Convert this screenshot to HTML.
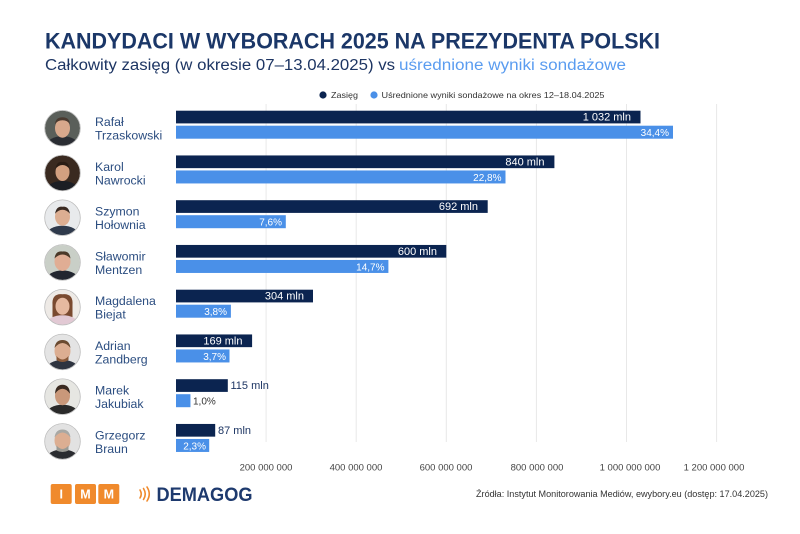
<!DOCTYPE html>
<html><head><meta charset="utf-8"><style>
html,body{margin:0;padding:0;background:#fff;}
svg{display:block;font-family:"Liberation Sans",sans-serif;}
</style></head><body>
<svg width="800" height="534" viewBox="0 0 800 534" xmlns="http://www.w3.org/2000/svg">
<rect width="800" height="534" fill="#fff"/>
<defs><clipPath id="c"><circle cx="0" cy="0" r="17.5"/></clipPath></defs>

<!-- Title -->
<text x="45" y="48.5" font-size="22" font-weight="bold" fill="#1b3768" textLength="615" lengthAdjust="spacingAndGlyphs">KANDYDACI W WYBORACH 2025 NA PREZYDENTA POLSKI</text>
<text x="45" y="70" font-size="15.5" fill="#1d3563" textLength="350" lengthAdjust="spacingAndGlyphs">Całkowity zasięg (w okresie 07–13.04.2025) vs</text>
<text x="399" y="70" font-size="15.5" fill="#5a9cf0" textLength="227" lengthAdjust="spacingAndGlyphs">uśrednione wyniki sondażowe</text>

<!-- Legend -->
<circle cx="323" cy="95" r="3.6" fill="#0b2450"/>
<text x="331" y="98" font-size="8.5" fill="#333" textLength="27" lengthAdjust="spacingAndGlyphs">Zasięg</text>
<circle cx="374" cy="95" r="3.6" fill="#4a90e8"/>
<text x="381.5" y="98" font-size="8.5" fill="#333" textLength="223" lengthAdjust="spacingAndGlyphs">Uśrednione wyniki sondażowe na okres 12–18.04.2025</text>

<!-- Gridlines -->
<g stroke="#e8e8e8" stroke-width="1">
<line x1="266.1" y1="104" x2="266.1" y2="442"/>
<line x1="356.2" y1="104" x2="356.2" y2="442"/>
<line x1="446.3" y1="104" x2="446.3" y2="442"/>
<line x1="536.4" y1="104" x2="536.4" y2="442"/>
<line x1="626.5" y1="104" x2="626.5" y2="442"/>
<line x1="716.6" y1="104" x2="716.6" y2="442"/>
</g>

<!-- Axis labels -->
<g font-size="9.5" fill="#444" text-anchor="middle">
<text x="266" y="470.5">200 000 000</text>
<text x="356" y="470.5">400 000 000</text>
<text x="446" y="470.5">600 000 000</text>
<text x="537" y="470.5">800 000 000</text>
<text x="630" y="470.5">1 000 000 000</text>
<text x="714" y="470.5">1 200 000 000</text>
</g>

<!-- Bars -->
<g>
<!-- row 0 -->
<rect x="176" y="110.7" width="464.5" height="12.7" fill="#0b2450"/>
<rect x="176" y="125.7" width="497" height="13" fill="#4a90e8"/>
<text x="631" y="120.7" font-size="11" fill="#fff" text-anchor="end">1 032 mln</text>
<text x="669" y="136" font-size="10" fill="#fff" text-anchor="end">34,4%</text>
<!-- row 1 -->
<rect x="176" y="155.45" width="378.4" height="12.7" fill="#0b2450"/>
<rect x="176" y="170.45" width="329.5" height="13" fill="#4a90e8"/>
<text x="544.5" y="165.45" font-size="11" fill="#fff" text-anchor="end">840 mln</text>
<text x="501.5" y="180.75" font-size="10" fill="#fff" text-anchor="end">22,8%</text>
<!-- row 2 -->
<rect x="176" y="200.2" width="311.7" height="12.7" fill="#0b2450"/>
<rect x="176" y="215.2" width="109.8" height="13" fill="#4a90e8"/>
<text x="478" y="210.2" font-size="11" fill="#fff" text-anchor="end">692 mln</text>
<text x="282" y="225.5" font-size="10" fill="#fff" text-anchor="end">7,6%</text>
<!-- row 3 -->
<rect x="176" y="244.95" width="270.3" height="12.7" fill="#0b2450"/>
<rect x="176" y="259.95" width="212.4" height="13" fill="#4a90e8"/>
<text x="437" y="254.95" font-size="11" fill="#fff" text-anchor="end">600 mln</text>
<text x="384.5" y="270.25" font-size="10" fill="#fff" text-anchor="end">14,7%</text>
<!-- row 4 -->
<rect x="176" y="289.7" width="137" height="12.7" fill="#0b2450"/>
<rect x="176" y="304.7" width="54.9" height="13" fill="#4a90e8"/>
<text x="304" y="299.7" font-size="11" fill="#fff" text-anchor="end">304 mln</text>
<text x="227" y="315" font-size="10" fill="#fff" text-anchor="end">3,8%</text>
<!-- row 5 -->
<rect x="176" y="334.45" width="76.1" height="12.7" fill="#0b2450"/>
<rect x="176" y="349.45" width="53.5" height="13" fill="#4a90e8"/>
<text x="242.5" y="344.45" font-size="11" fill="#fff" text-anchor="end">169 mln</text>
<text x="226" y="359.75" font-size="10" fill="#fff" text-anchor="end">3,7%</text>
<!-- row 6 -->
<rect x="176" y="379.2" width="51.8" height="12.7" fill="#0b2450"/>
<rect x="176" y="394.2" width="14.45" height="13" fill="#4a90e8"/>
<text x="230.5" y="389.2" font-size="11" fill="#1d3563">115 mln</text>
<text x="193" y="404.5" font-size="10" fill="#333">1,0%</text>
<!-- row 7 -->
<rect x="176" y="423.95" width="39.2" height="12.7" fill="#0b2450"/>
<rect x="176" y="438.95" width="33.2" height="13" fill="#4a90e8"/>
<text x="218" y="433.95" font-size="11" fill="#1d3563">87 mln</text>
<text x="206" y="449.25" font-size="10" fill="#fff" text-anchor="end">2,3%</text>
</g>

<!-- Names -->
<g font-size="12.3" fill="#2b4d80">
<text x="95" y="126">Rafał</text><text x="95" y="139.5">Trzaskowski</text>
<text x="95" y="170.75">Karol</text><text x="95" y="184.25">Nawrocki</text>
<text x="95" y="215.5">Szymon</text><text x="95" y="229">Hołownia</text>
<text x="95" y="260.25">Sławomir</text><text x="95" y="273.75">Mentzen</text>
<text x="95" y="305">Magdalena</text><text x="95" y="318.5">Biejat</text>
<text x="95" y="349.75">Adrian</text><text x="95" y="363.25">Zandberg</text>
<text x="95" y="394.5">Marek</text><text x="95" y="408">Jakubiak</text>
<text x="95" y="439.25">Grzegorz</text><text x="95" y="452.75">Braun</text>
</g>

<!-- Avatars -->
<g transform="translate(62.5,128.2)">
<g clip-path="url(#c)"><rect x="-18" y="-18" width="36" height="36" fill="#5a5f5a"/>
<ellipse cx="0" cy="17" rx="16" ry="9" fill="#2a2d33"/><ellipse cx="0" cy="0" rx="7.5" ry="9.5" fill="#d8a88c"/><path d="M-7.5 -4 Q-7 -11 0 -11 Q7 -11 7.5 -4 Q5 -8 0 -8 Q-5 -8 -7.5 -4Z" fill="#4a3a30"/></g>
<circle r="17.8" fill="none" stroke="#bbb" stroke-width="0.8"/></g>

<g transform="translate(62.5,172.95)">
<g clip-path="url(#c)"><rect x="-18" y="-18" width="36" height="36" fill="#3a2a20"/>
<ellipse cx="0" cy="17" rx="16" ry="9" fill="#1c1e24"/><ellipse cx="0" cy="-1" rx="7" ry="9" fill="#d2a080"/><path d="M-7 -4 Q-6 -12 0 -11 Q6 -12 7 -4 Q4 -8 0 -8 Q-4 -8 -7 -4Z" fill="#2a1d15"/></g>
<circle r="17.8" fill="none" stroke="#bbb" stroke-width="0.8"/></g>

<g transform="translate(62.5,217.7)">
<g clip-path="url(#c)"><rect x="-18" y="-18" width="36" height="36" fill="#e8eaec"/>
<ellipse cx="0" cy="17" rx="16" ry="9" fill="#2f3a4c"/><ellipse cx="0" cy="-1" rx="7.5" ry="9" fill="#dcae92"/><path d="M-7.5 -4 Q-6 -12 0 -11 Q6 -12 7.5 -4 Q4 -8 0 -8 Q-4 -8 -7.5 -4Z" fill="#3a2a22"/></g>
<circle r="17.8" fill="none" stroke="#bbb" stroke-width="0.8"/></g>

<g transform="translate(62.5,262.45)">
<g clip-path="url(#c)"><rect x="-18" y="-18" width="36" height="36" fill="#c9cfc7"/>
<ellipse cx="0" cy="17" rx="16" ry="9" fill="#222630"/><ellipse cx="0" cy="-1" rx="8" ry="9.5" fill="#e0ad94"/><path d="M-8 -4 Q-7 -12 0 -11 Q7 -12 8 -4 Q4 -8 0 -8 Q-4 -8 -8 -4Z" fill="#4a3828"/></g>
<circle r="17.8" fill="none" stroke="#bbb" stroke-width="0.8"/></g>

<g transform="translate(62.5,307.2)">
<g clip-path="url(#c)"><rect x="-18" y="-18" width="36" height="36" fill="#eeeae6"/>
<path d="M-10 -2 Q-11 -14 0 -13 Q11 -14 10 -2 L10 10 L-10 10Z" fill="#7a4a30"/>
<ellipse cx="0" cy="17" rx="16" ry="9" fill="#e2c9d4"/><ellipse cx="0" cy="-1" rx="7" ry="8.5" fill="#e6b9a0"/></g>
<circle r="17.8" fill="none" stroke="#bbb" stroke-width="0.8"/></g>

<g transform="translate(62.5,351.95)">
<g clip-path="url(#c)"><rect x="-18" y="-18" width="36" height="36" fill="#e4e4e4"/>
<ellipse cx="0" cy="17" rx="16" ry="9" fill="#2e3440"/><ellipse cx="0" cy="-1" rx="8" ry="10" fill="#dcae92"/><path d="M-6 4 Q0 11 6 4 L6 8 Q0 12 -6 8Z" fill="#8a5a3a"/><path d="M-8 -4 Q-7 -12 0 -12 Q7 -12 8 -4 Q4 -9 0 -9 Q-4 -9 -8 -4Z" fill="#6a4a30"/></g>
<circle r="17.8" fill="none" stroke="#bbb" stroke-width="0.8"/></g>

<g transform="translate(62.5,396.7)">
<g clip-path="url(#c)"><rect x="-18" y="-18" width="36" height="36" fill="#e6e6e2"/>
<ellipse cx="0" cy="17" rx="16" ry="9" fill="#2a2a2a"/><ellipse cx="0" cy="-1" rx="7.5" ry="9.5" fill="#c9987a"/><path d="M-7.5 -3 Q-7 -12 0 -12 Q7 -12 7.5 -3 Q4 -8 0 -8 Q-4 -8 -7.5 -3Z" fill="#3a2a20"/></g>
<circle r="17.8" fill="none" stroke="#bbb" stroke-width="0.8"/></g>

<g transform="translate(62.5,441.45)">
<g clip-path="url(#c)"><rect x="-18" y="-18" width="36" height="36" fill="#e2e2e2"/>
<ellipse cx="0" cy="17" rx="16" ry="9" fill="#2a2c30"/><ellipse cx="0" cy="-1" rx="8" ry="10" fill="#dcae92"/><path d="M-6 4 Q0 11 6 4 L6 9 Q0 12 -6 9Z" fill="#9a9a94"/><path d="M-8 -4 Q-7 -12 0 -12 Q7 -12 8 -4 Q4 -9 0 -9 Q-4 -9 -8 -4Z" fill="#a8a8a4"/></g>
<circle r="17.8" fill="none" stroke="#bbb" stroke-width="0.8"/></g>

<!-- Footer logos -->
<g>
<rect x="50.7" y="484" width="21" height="20" rx="2" fill="#f08a2c"/>
<rect x="75" y="484" width="21" height="20" rx="2" fill="#f08a2c"/>
<rect x="98.3" y="484" width="21" height="20" rx="2" fill="#f08a2c"/>
<g font-size="12.5" font-weight="bold" fill="#fff" text-anchor="middle">
<text x="61.2" y="498.5">I</text><text x="85.5" y="498.5">M</text><text x="108.8" y="498.5">M</text>
</g>
<g fill="none" stroke="#f08a2c" stroke-width="1.6" stroke-linecap="round">
<path d="M140 490 Q142.5 494 140 498"/>
<path d="M143.5 488.5 Q147 494 143.5 499.5"/>
<path d="M147 487 Q151.5 494 147 501"/>
</g>
<text x="156.5" y="501" font-size="19" font-weight="bold" fill="#1e3a6e" textLength="96" lengthAdjust="spacingAndGlyphs">DEMAGOG</text>
<text x="476" y="497" font-size="8.8" fill="#333" textLength="292" lengthAdjust="spacingAndGlyphs">Źródła: Instytut Monitorowania Mediów, ewybory.eu (dostęp: 17.04.2025)</text>
</g>
</svg>
</body></html>
